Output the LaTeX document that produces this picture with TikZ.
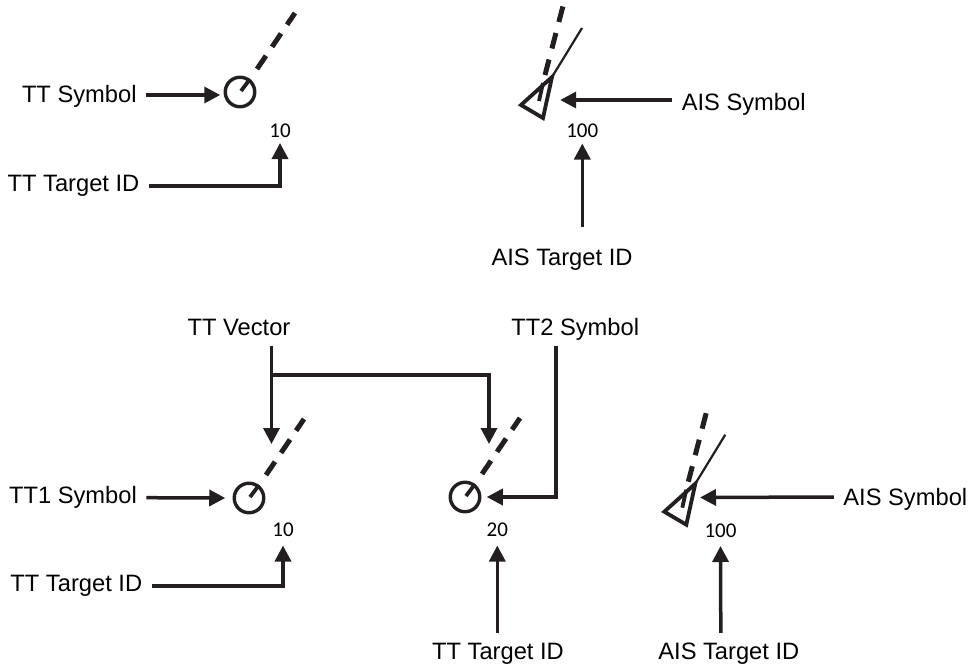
\documentclass[tikz,border=0pt]{standalone}
\usepackage{fontspec}
\setmainfont{Liberation Sans}
\newfontfamily\idfont{Carlito}
\usetikzlibrary{positioning, calc, arrows.meta}
\definecolor{radarInk}{HTML}{231F20}
\tikzset{
    radarLabel/.style={
        font=\fontsize{23.7}{27}\selectfont,
        text=black,
        text height=16.8pt,
        text depth=0pt,
        inner xsep=9.5pt,
        inner ysep=9.7pt,
        outer sep=0pt
    },
    radarId/.style={
        font=\idfont\fontsize{21}{23}\selectfont,
        text=black,
        text height=13pt,
        text depth=0pt,
        inner sep=0pt,
        outer sep=6pt
    },
    ttSym/.style={
        circle,
        draw=radarInk,
        line width=3.4pt,
        minimum size=29.5pt,
        inner sep=0pt,
        outer sep=5pt
    },
    aisSym/.style={
        circle,
        minimum size=46pt,
        inner sep=0pt
    },
    % Headings
    headTick/.style={draw=radarInk, line width=3.8pt},
    headLine/.style={draw=radarInk, line width=2.2pt},
    % Arrows
    radarArrow/.style={-{Triangle[length=16pt, width=16pt]}, line width=3.5pt, draw=radarInk}
}
\newcommand{\ttHeading}[1]{
    \draw[headTick] (#1.center) ++(1,-1) -- ++(9,-12);
    \draw[draw=radarInk, line width=5pt, dash pattern=on 16pt off 10.8pt] (#1.center) ++(17,-23) -- ++(38,-56);
}
\newcommand{\aisHeading}[1]{
    \begin{scope}[shift={(#1.center)}]
    \draw[headTick, line join=miter] (-16,5) -- (6,18) -- (15,-23) -- cycle;
    \draw[headLine] (15,-23) -- (45,-72);
    \draw[headTick] (2,1) -- (6,-17);
    \draw[draw=radarInk, line width=5pt, dash pattern=on 16pt off 11.4pt] (8,-25) -- (26,-94);
    \end{scope}
}
\begin{document}
\begin{tikzpicture}[x=1pt, y=-1pt]
\useasboundingbox (0,0) rectangle (969,664);

% Upper left
\node[ttSym] (ttsym) at (240,92) {};
\node[radarLabel] (ttlabel) at (79.3,94) {TT Symbol};
\node[radarId] (ttid) at (280,130.5) {10};
\node[radarLabel] (ttidlabel) at (73.5,183.3) {TT Target ID};
\ttHeading{ttsym}
\draw[radarArrow] ([yshift=-1pt]ttlabel.east) -- ([yshift=-3pt]ttsym.west);
\draw[radarArrow] ([yshift=-2.7pt]ttidlabel.east) -| (ttid);

% Upper right
\node[aisSym] (aissym) at (537,100) {};
\node[radarLabel] (aislabel) at (743.7,102.5) {AIS Symbol};
\node[radarId] (aisid) at (582.3,131) {100};
\node[radarLabel] (aisidlabel) at (562,257) {AIS Target ID};
\aisHeading{aissym}
\draw[radarArrow] ([yshift=2.5pt]aislabel.west) -- (aissym);
\draw[radarArrow] ([shift={(20.3pt,12pt)}]aisidlabel.north) -- (aisid);

% Lower row
\node[ttSym] (ttasym) at (249,498) {};
\node[ttSym] (ttbsym) at (465,497) {};
\node[aisSym] (aisbsym) at (680.3,506.7) {};
\ttHeading{ttasym}
\ttHeading{ttbsym}
\aisHeading{aisbsym}

\node[radarLabel] (veclabel) at (239,327.5) {TT Vector};
\node[radarLabel, right=202pt of veclabel] (ttblabel) {TT2 Symbol};
\node[radarLabel] (ttalabel) at (73,495.5) {TT1 Symbol};
\node[radarLabel] (aisblabel) at (905.3,497) {AIS Symbol};

\node[radarId] (ttaid) at (283,530) {10};
\node[radarId] (ttbid) at (497.3,530) {20};
\node[radarId] (aisbid) at (720.5,530.5) {100};
\node[radarLabel] (ttaidlabel) at (76.3,583.3) {TT Target ID};
\node[radarLabel] (ttbidlabel) at (498,651) {TT Target ID};
\node[radarLabel, right=75.5pt of ttbidlabel] (aisbidlabel) {AIS Target ID};

\coordinate (vectipa) at (271.5,444);
\coordinate (vectipb) at (489,444);
\coordinate (vecbranch) at (271.5,375);
\coordinate (aisbtip) at (700,497.5);

\draw[radarArrow] ([xshift=32.5pt]veclabel.south) -- (vectipa);
\draw[radarArrow] (vecbranch) -| (vectipb);
\draw[radarArrow] ([xshift=-19.3pt]ttblabel.south) |- ([xshift=2pt]ttbsym.east);
\draw[radarArrow] ([yshift=-2.2pt]ttalabel.east) -- ([xshift=-4pt]ttasym.west);
\draw[radarArrow] (aisblabel.west) -- (aisbtip);
\draw[radarArrow] ([yshift=-2.7pt]ttaidlabel.east) -| ([yshift=-3pt]ttaid.south);
\draw[radarArrow] ([xshift=-0.7pt]ttbidlabel.north) -- ([yshift=-3pt]ttbid.south);
\draw[radarArrow] ([xshift=-8pt]aisbidlabel.north) -- ([yshift=-3pt]aisbid.south);
\end{tikzpicture}
\end{document}
